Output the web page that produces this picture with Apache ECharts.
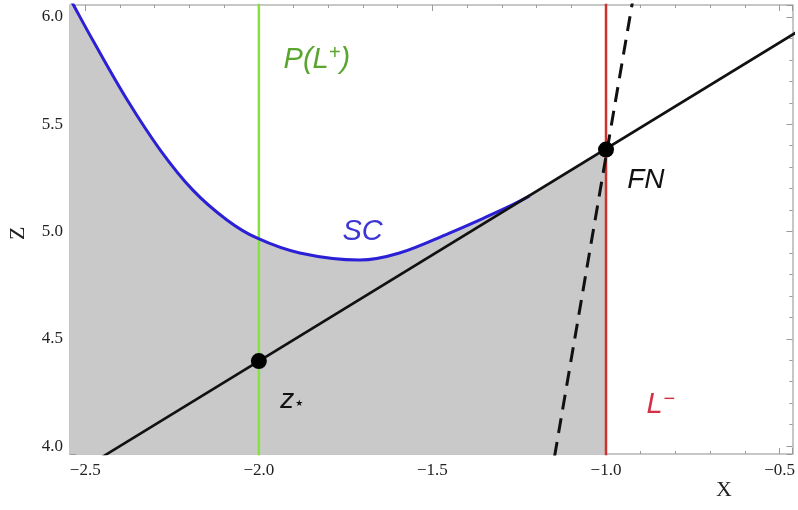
<!DOCTYPE html>
<html>
<head>
<meta charset="utf-8">
<script src="https://cdn.jsdelivr.net/npm/echarts@6/dist/echarts.min.js"></script>
<style>html,body{margin:0;padding:0;background:#fff}#c{width:798px;height:510px}</style>
</head>
<body>
<div id="c"></div>
<script>
// ---- data ----
const xRange = [-2.544, -0.463];
const zRange = [3.963, 6.056];
const xTicks = [-2.5, -2.0, -1.5, -1.0, -0.5];
const zTicks = [4.0, 4.5, 5.0, 5.5, 6.0];
// SC curve (blue)
const scX = [-2.546, -2.534, -2.477, -2.379, -2.284, -2.190, -2.092, -2.006, -1.882, -1.710, -1.595, -1.451, -1.345, -1.270, -1.22];
const scZ = [6.092, 6.056, 5.888, 5.613, 5.380, 5.193, 5.054, 4.970, 4.900, 4.867, 4.900, 4.993, 5.068, 5.124, 5.166];
// solid black line through z* and FN
const lineX = [-2.60, -0.40];
const lineZ = [3.802, 5.980];
// dashed line
const dashX = [-1.16, -0.91];
const dashZ = [3.84, 6.20];
// vertical lines
const plusX = -2.0;   // P(L+)
const minusX = -1.0;  // L-
// special points
const zStar = [-2.0, 4.396];
const fn = [-1.0, 5.382];
// gray region: under SC, then under line to FN
const fillX = scX.concat([-1.0]);
const fillZ = scZ.concat([5.382]);
// annotation positions
const annotations = [
  {x: -1.833, z: 5.80, key: 'pl'},
  {x: -1.701, z: 5.00, key: 'sc'},
  {x: -0.885, z: 5.24, key: 'fn'},
  {x: -1.905, z: 4.215, key: 'zs'},
  {x: -0.842, z: 4.19, key: 'lm'}
];

const zip = (a, b) => a.map((v, i) => [v, b[i]]);
const fmt = v => (v < 0 ? '\u2212' : '') + Math.abs(v).toFixed(1);

const chart = echarts.init(document.getElementById('c'), null, {renderer: 'canvas'});
const axisLineStyle = {color: '#b5b5b5', width: 1.5};
const tickStyle = {color: '#9a9a9a', width: 1};

function xAx(pos, showLabel) {
  return {
    type: 'value', position: pos, min: xRange[0], max: xRange[1],
    minInterval: 0.5, maxInterval: 0.5,
    axisLine: {show: true, onZero: false, lineStyle: axisLineStyle},
    axisTick: {show: true, inside: true, length: 6, lineStyle: tickStyle},
    minorTick: {show: true, splitNumber: 5, length: 3, lineStyle: tickStyle},
    splitLine: {show: false},
    axisLabel: {show: showLabel, margin: 8, formatter: fmt, showMinLabel: false, showMaxLabel: false,
      fontFamily: 'Liberation Serif', fontSize: 17, color: '#222'}
  };
}
function yAx(pos, showLabel) {
  return {
    type: 'value', position: pos, min: zRange[0], max: zRange[1],
    minInterval: 0.5, maxInterval: 0.5,
    axisLine: {show: true, onZero: false, lineStyle: axisLineStyle},
    axisTick: {show: true, inside: true, length: 6, lineStyle: tickStyle},
    minorTick: {show: true, splitNumber: 5, length: 3, lineStyle: tickStyle},
    splitLine: {show: false},
    axisLabel: {show: showLabel, margin: 7, formatter: fmt, showMinLabel: false, showMaxLabel: false,
      fontFamily: 'Liberation Serif', fontSize: 17, color: '#222'}
  };
}

const sans = 'Liberation Sans';
const labelStyles = {
  pl: {text: '{a|P(L}{s|+}{a|)}', rich: {a: {fontFamily: sans, fontStyle: 'italic', fontSize: 29, color: '#5aa52e'}, s: {fontFamily: sans, fontStyle: 'italic', fontSize: 20, color: '#5aa52e', verticalAlign: 'top', padding: [0, 0, 12, 0]}}},
  sc: {text: '{a|SC}', rich: {a: {fontFamily: sans, fontStyle: 'italic', fontSize: 29, color: '#3c37d4'}}},
  fn: {text: '{a|FN}', rich: {a: {fontFamily: sans, fontStyle: 'italic', fontSize: 28, color: '#111'}}},
  zs: {text: '{a|z}{s|\u2605}', rich: {a: {fontFamily: sans, fontStyle: 'italic', fontSize: 28, color: '#111'}, s: {fontFamily: 'DejaVu Sans', fontSize: 9, color: '#111', padding: [8, 0, 0, 1]}}},
  lm: {text: '{a|L}{s|\u2212}', rich: {a: {fontFamily: sans, fontStyle: 'italic', fontSize: 29, color: '#d42f45'}, s: {fontFamily: sans, fontSize: 20, color: '#d42f45', verticalAlign: 'top', padding: [0, 0, 12, 1]}}}
};

chart.setOption({
  animation: false,
  grid: {left: 70, right: 4, top: 5, bottom: 56, containLabel: false},
  xAxis: [xAx('bottom', true), xAx('top', false)],
  yAxis: [yAx('left', true), yAx('right', false)],
  graphic: [
    {type: 'text', left: 716, top: 479, style: {text: 'X', font: '22px "Liberation Serif"', fill: '#222'}},
    {type: 'text', x: 7, y: 240, rotation: Math.PI / 2, style: {text: 'Z', font: '22px "Liberation Serif"', fill: '#222'}}
  ],
  series: [
    {type: 'line', name: 'region', data: zip(fillX, fillZ), smooth: 0.35, symbol: 'none', clip: true, z: 1,
     lineStyle: {width: 0}, areaStyle: {color: '#c9c9c9', opacity: 1, origin: 'start'}},
    {type: 'line', name: 'P(L+)', data: [[plusX, 3.5], [plusX, 6.5]], symbol: 'none', clip: true, z: 2,
     lineStyle: {color: '#86e33c', width: 2.5}},
    {type: 'line', name: 'L-', data: [[minusX, 3.5], [minusX, 6.5]], symbol: 'none', clip: true, z: 2,
     lineStyle: {color: '#cf3030', width: 2.5}},
    {type: 'line', name: 'SC', data: zip(scX, scZ), smooth: 0.35, symbol: 'none', clip: true, z: 3,
     lineStyle: {color: '#2b20d6', width: 3}},
    {type: 'line', name: 'line', data: zip(lineX, lineZ), symbol: 'none', clip: true, z: 4,
     lineStyle: {color: '#111', width: 2.6}},
    {type: 'line', name: 'dashed', data: zip(dashX, dashZ), symbol: 'none', clip: true, z: 4,
     lineStyle: {color: '#111', width: 3, type: [15, 9]}},
    {type: 'scatter', name: 'pts', data: [zStar, fn], symbol: 'circle', symbolSize: 16, z: 5,
     itemStyle: {color: '#000', opacity: 1}},
    {type: 'scatter', name: 'labels', symbolSize: 0, z: 6, silent: true, itemStyle: {opacity: 1},
     data: annotations.map(a => ({value: [a.x, a.z],
       label: {show: true, position: 'inside', opacity: 1, formatter: labelStyles[a.key].text, rich: labelStyles[a.key].rich}}))}
  ]
});
</script>
</body>
</html>
